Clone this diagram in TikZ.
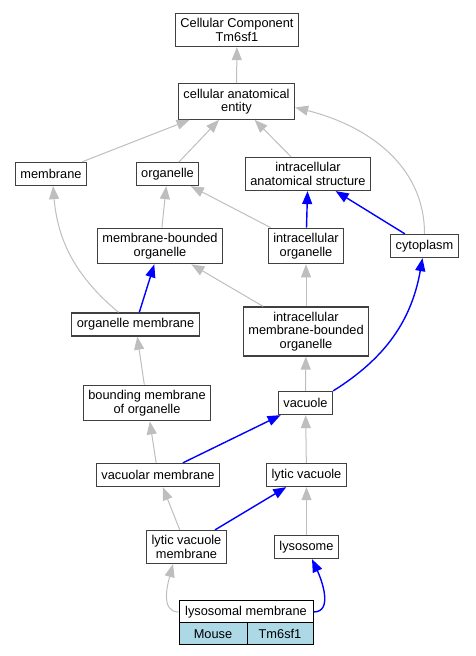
\documentclass[tikz,border=0pt]{standalone}
\usepackage{fontspec}
\setmainfont{Liberation Sans}
\usetikzlibrary{arrows.meta}
\definecolor{edgegray}{HTML}{BEBEBE}
\definecolor{edgeblue}{HTML}{0000FF}
\definecolor{cellblue}{HTML}{ADD8E6}
\definecolor{boxline}{HTML}{404040}
\begin{document}
\begin{tikzpicture}[x=1pt,y=1pt]
   \tikzstyle{term} = [draw=boxline, line width=1.3pt, fill=white, align=center,
      inner xsep=5pt, inner ysep=5pt, minimum height=23pt,
      font=\fontsize{12.8}{13.5}\selectfont]
   \tikzstyle{cell} = [term, minimum height=22pt, line width=1pt, draw=black, inner ysep=3pt]
   \tikzstyle{isa} = [draw=edgegray, line width=1pt, -{Triangle[length=13pt,width=10pt,fill=edgegray]}]
   \tikzstyle{partof} = [draw=edgeblue, line width=1.4pt, -{Triangle[length=13pt,width=10pt,fill=edgeblue]}]
   \useasboundingbox (0,0) rectangle (475,656);

   \node [term] (cc) at (237,626) {Cellular Component\\Tm6sf1};
   \node [term] (cae) at (236.5,554.5) {cellular anatomical\\entity};
   \node [term] (mem) at (51,482) {membrane};
   \node [term] (org) at (167.5,482) {organelle};
   \node [term] (ias) at (308,482) {intracellular\\anatomical structure};
   \node [term] (mbo) at (160,410) {membrane-bounded\\organelle};
   \node [term] (io) at (306,410) {intracellular\\organelle};
   \node [term] (cyto) at (424.5,410) {cytoplasm};
   \node [term] (om) at (135.5,331.5) {organelle membrane};
   \node [term] (imbo) at (306,324.5) {intracellular\\membrane-bounded\\organelle};
   \node [term] (bmo) at (147,253) {bounding membrane\\of organelle};
   \node [term] (vac) at (305.5,253) {vacuole};
   \node [term] (vm) at (158,181) {vacuolar membrane};
   \node [term] (lv) at (306.5,181) {lytic vacuole};
   \node [term] (lvm) at (186.5,109) {lytic vacuole\\membrane};
   \node [term] (lys) at (306.5,109) {lysosome};
   \node [cell, minimum width=134pt] (lm) at (246,44) {lysosomal membrane};
   \node [cell, fill=cellblue, minimum width=68pt] (mouse) at (213,22) {Mouse};
   \node [cell, fill=cellblue, minimum width=66pt] (gene) at (280,22) {Tm6sf1};

   \path (cae) edge [isa] (cc);
   \path (mem) edge [isa] (cae);
   \path (org) edge [isa] (cae);
   \path (ias) edge [isa] (cae);
   \path (cyto.north) edge [isa, out=90, in=-14] ([yshift=-6pt]cae.east);

   \path (io) edge [partof] (ias);
   \path (cyto) edge [partof] (ias);
   \path (io) edge [isa] (org);
   \path (mbo) edge [isa] (org);

   \path ([xshift=-17pt]om.north) edge [isa, out=140, in=-85] ([xshift=2pt]mem.south);
   \path (om) edge [partof] (mbo);
   \path (imbo) edge [isa] (mbo);
   \path (imbo) edge [isa] (io);

   \path (vac.north east) edge [partof, out=32, in=-100] ([xshift=-2pt]cyto.south);
   \path (vac) edge [isa] (imbo);
   \path (bmo) edge [isa] (om);

   \path (vm) edge [isa] (bmo);
   \path (vm) edge [partof] (vac);
   \path (lv) edge [isa] (vac);

   \path (lvm) edge [isa] (vm);
   \path (lvm) edge [partof] (lv);
   \path (lys) edge [isa] (lv);

   \path (lm.west) edge [isa, out=180, in=-105] ([xshift=-13.5pt]lvm.south);
   \path (lm.east) edge [partof, out=0, in=-65] ([xshift=5.5pt]lys.south);

 \end{tikzpicture}
\end{document}
